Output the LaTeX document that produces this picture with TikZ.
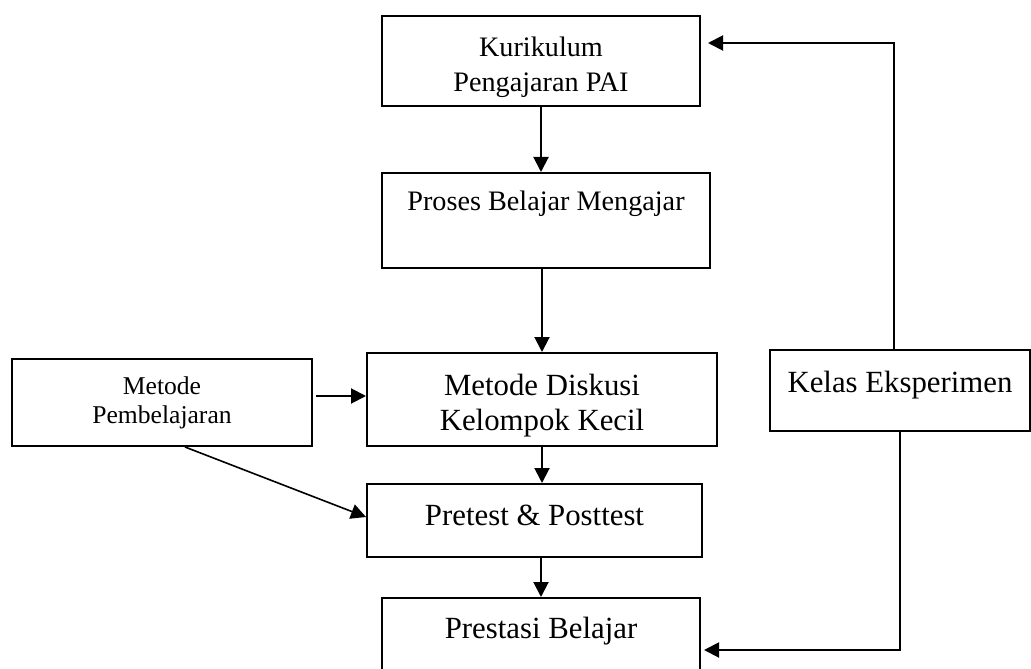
\documentclass[tikz,border=0pt]{standalone}
\usepackage{fontspec}
\setmainfont{Liberation Serif}
\usetikzlibrary{arrows.meta}

\tikzset{
  box/.style={draw, line width=1pt, inner sep=0pt, align=center},
  bigtext/.style={font=\fontsize{15.4}{17.5}\selectfont},
  midtext/.style={font=\fontsize{14.1}{17.5}\selectfont},
  smalltext/.style={font=\fontsize{12.8}{14.5}\selectfont},
}

\begin{document}
\begin{tikzpicture}[x=0.5pt, y=-0.5pt, >={Triangle[length=7.5pt,width=7.5pt]}, line width=1pt]
	\useasboundingbox (0,0) rectangle (1031,668);
	\node[box, midtext, minimum width=159pt, minimum height=45pt, text height=34pt, text depth=3pt] (kurikulum) at (541,61) {Kurikulum\\Pengajaran PAI};
	\node[box, midtext, minimum width=164pt, minimum height=47.5pt, text height=10pt, text depth=19.5pt] (proses) at (546,220.5) {Proses Belajar Mengajar};
	\node[box, bigtext, minimum width=175pt, minimum height=46.5pt, text height=33pt, text depth=2.5pt] (diskusi) at (542,399.5) {Metode Diskusi\\Kelompok Kecil};
	\node[box, smalltext, minimum width=150pt, minimum height=43.5pt, text height=23.5pt, text depth=2.5pt] (metode) at (162,402.5) {Metode\\Pembelajaran};
	\node[box, bigtext, minimum width=167.5pt, minimum height=36.5pt, text height=12pt, text depth=7.5pt] (pretest) at (534.5,520.5) {Pretest \& Posttest};
	\node[box, bigtext, minimum width=159pt, minimum height=37pt, text height=11pt, text depth=8pt] (prestasi) at (541,635) {Prestasi Belajar};
	\node[box, bigtext, minimum width=130pt, minimum height=40.5pt, text height=11pt, text depth=9pt] (kelas) at (900,390.5) {Kelas Eksperimen};
	\draw[->] (kurikulum.south) -- (kurikulum.south |- proses.north);
	\draw[->] (proses.south -| diskusi.north) -- (diskusi.north);
	\draw[->] (diskusi.south) -- (diskusi.south |- pretest.north);
	\draw[->] (pretest.south -| prestasi.north) -- (prestasi.north);
	\draw[->, shorten <=1.5pt] (metode.east |- 0,396) -- (diskusi.west |- 0,396);
	\draw[->, line width=0.8pt] ([xshift=11.5pt]metode.south) -- ([yshift=1.75pt]pretest.west);
	\draw[->, shorten >=3.5pt] ([xshift=-3pt]kelas.north) |- ([yshift=9pt]kurikulum.east);
	\draw[->, shorten >=1.5pt] (kelas.south) |- ([yshift=-7.5pt]prestasi.east);
\end{tikzpicture}
\end{document}
